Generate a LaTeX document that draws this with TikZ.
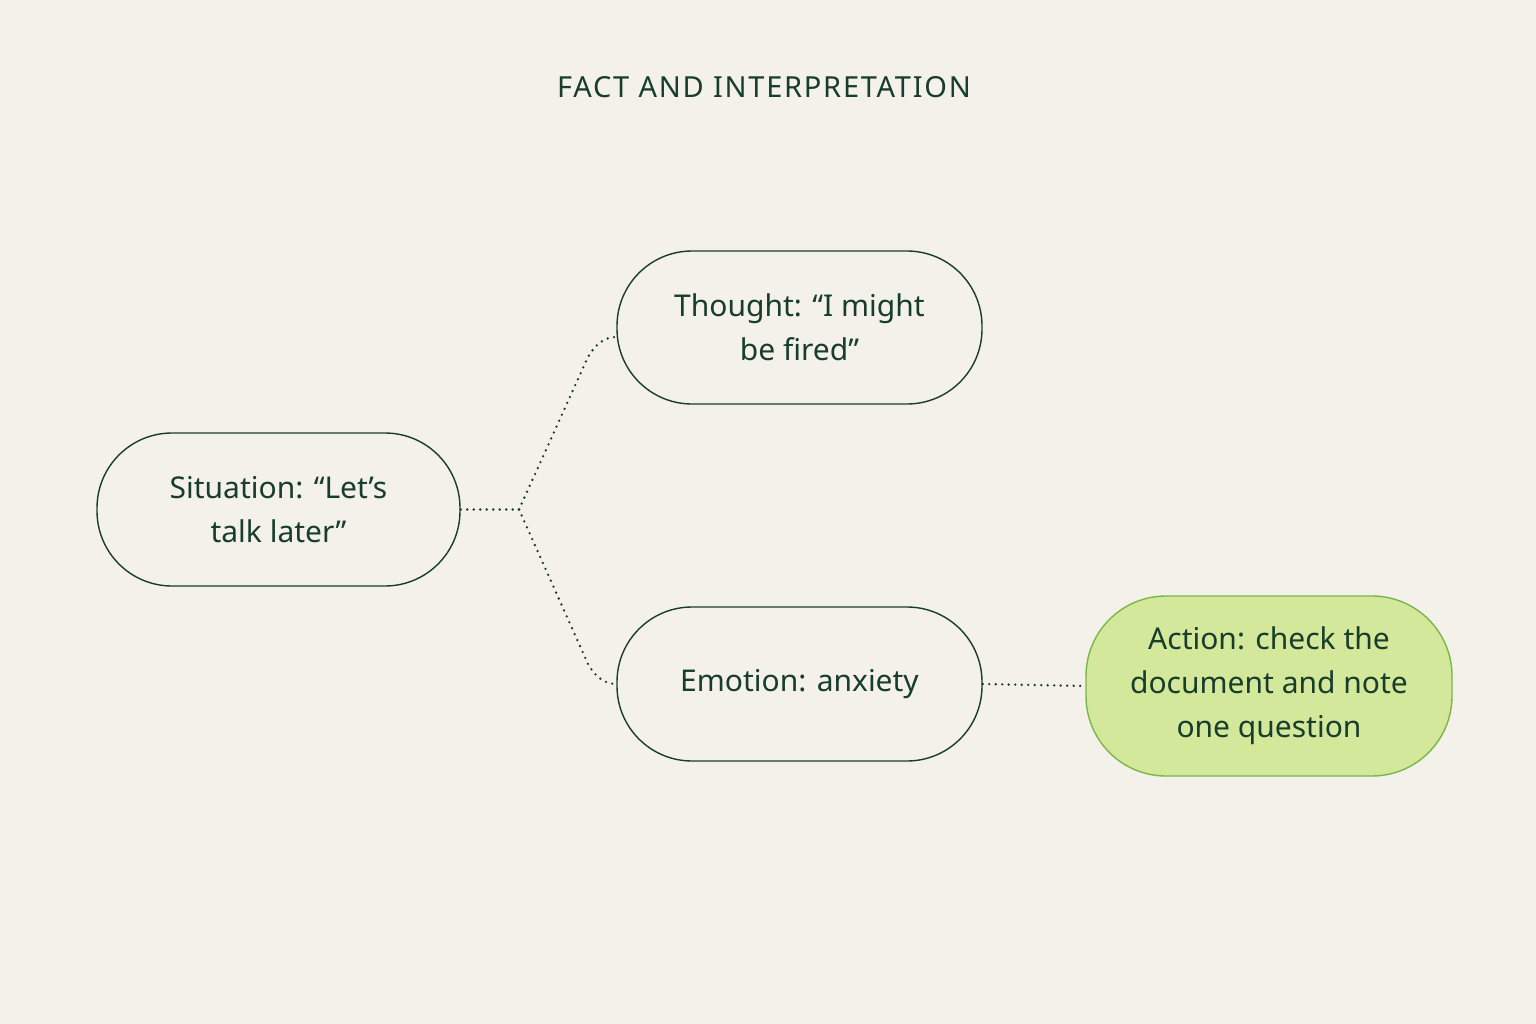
\documentclass[tikz,border=0pt]{standalone}
\usepackage{fontspec}
\setmainfont{Noto Sans}
\newfontfamily\titlefont[LetterSpace=6]{Noto Sans}
\definecolor{bg}{HTML}{F3F1EA}
\definecolor{ink}{HTML}{183D2C}
\definecolor{actfill}{HTML}{D3E89A}
\definecolor{actline}{HTML}{7AB648}
\begin{document}
\begin{tikzpicture}[x=1pt,y=-1pt,
  box/.style={draw=ink,line width=1.4pt,rounded corners=75pt,text=ink,align=center,font=\fontsize{30}{44}\selectfont,inner sep=0pt},
  dot/.style={draw=ink,line width=2.6pt,line cap=round,dash pattern=on 0pt off 6.5pt}]
\fill[bg] (0,0) rectangle (1536,1024);
\useasboundingbox (0,0) rectangle (1536,1024);
\node[text=ink,font=\titlefont\fontsize{29}{34}\selectfont] (title) at (764,87) {FACT AND INTERPRETATION};
\node[box,minimum width=363pt,minimum height=153pt] (sit) at (278.5,509.5) {Situation: “Let’s\\talk later”};
\node[box,minimum width=365pt,minimum height=153pt] (tho) at (799.5,327.5) {Thought: “I might\\be fired”};
\node[box,minimum width=365pt,minimum height=154pt] (emo) at (799.5,684) {Emotion: anxiety};
\node[box,draw=actline,fill=actfill,minimum width=366pt,minimum height=180pt,rounded corners=80pt] (act) at (1269,686) {Action: check the\\document and note\\one question};
\coordinate (j) at (519,509.5);
\coordinate (tw) at (617,337);
\coordinate (ew) at (617,684);
\draw[dot] (sit.east) -- (j);
\draw[dot] (j) -- (588,357) .. controls (598,340) and (608,337) .. (tw);
\draw[dot] (j) -- (588,664) .. controls (598,681) and (608,684) .. (ew);
\draw[dot] (emo.east) -- (act.west);
\end{tikzpicture}
\end{document}
